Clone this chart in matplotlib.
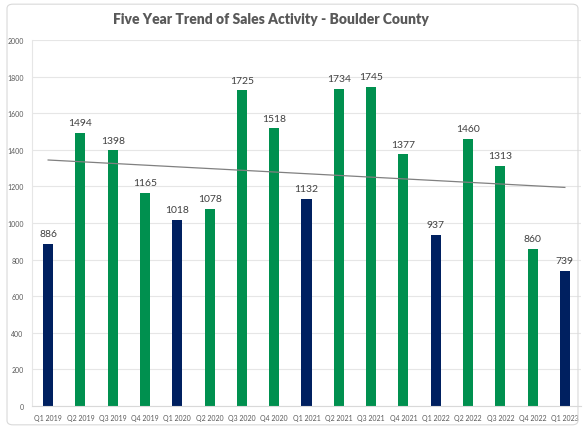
import matplotlib
matplotlib.use("Agg")
import matplotlib.pyplot as plt
import numpy as np
from matplotlib.patches import FancyBboxPatch

categories = ["Q1 2019", "Q2 2019", "Q3 2019", "Q4 2019", "Q1 2020", "Q2 2020", "Q3 2020", "Q4 2020",
              "Q1 2021", "Q2 2021", "Q3 2021", "Q4 2021", "Q1 2022", "Q2 2022", "Q3 2022", "Q4 2022", "Q1 2023"]
values = [886, 1494, 1398, 1165, 1018, 1078, 1725, 1518, 1132, 1734, 1745, 1377, 937, 1460, 1313, 860, 739]
yticks = [0, 200, 400, 600, 800, 1000, 1200, 1400, 1600, 1800, 2000]

NAVY = "#002060"
GREEN = "#00904F"

plt.rcParams['font.family'] = ['Lato', 'DejaVu Sans']

fig = plt.figure(figsize=(5.85, 4.31), dpi=100)
fig.patch.set_facecolor("white")
border = FancyBboxPatch((0.012, 0.012), 0.976, 0.976, boxstyle="round,pad=0,rounding_size=0.01",
                        transform=fig.transFigure, fill=False, edgecolor="#d9d9d9", linewidth=0.8)
fig.patches.append(border)

ax = fig.add_axes([32/585, 1 - 407/431, (581-32)/585, (407-41)/431])
x = np.arange(len(categories))
colors = [NAVY if c.startswith("Q1") else GREEN for c in categories]
ax.bar(x, values, width=0.31, color=colors, zorder=2)
for xi, v in zip(x, values):
    ax.text(xi, v + 30, str(v), ha="center", va="bottom", fontsize=7.5, color="#404040", zorder=4)

coef = np.polyfit(x, values, 1)
ax.plot(x, np.polyval(coef, x), color="#808080", linewidth=0.9, zorder=3)

ax.set_xlim(-0.5, len(categories) - 0.5)
ax.set_ylim(0, 2000)
ax.set_yticks(yticks)
ax.set_yticklabels([str(t) for t in yticks], fontsize=5, color="#595959")
ax.set_xticks(x)
ax.set_xticklabels(categories, fontsize=5, color="#595959")
ax.tick_params(length=0, pad=6)
ax.grid(axis="y", color="#e6e6e6", linewidth=0.8, zorder=0)
for s in ["top", "right"]:
    ax.spines[s].set_visible(False)
ax.spines["left"].set_color("#e6e6e6")
ax.spines["bottom"].set_color("#d9d9d9")

fig.text(271/585, 1 - 19/431, "Five Year Trend of Sales Activity - Boulder County", ha="center", va="center",
         fontsize=10, fontweight="heavy", color="#595959")

fig.savefig("out.png", dpi=100)
